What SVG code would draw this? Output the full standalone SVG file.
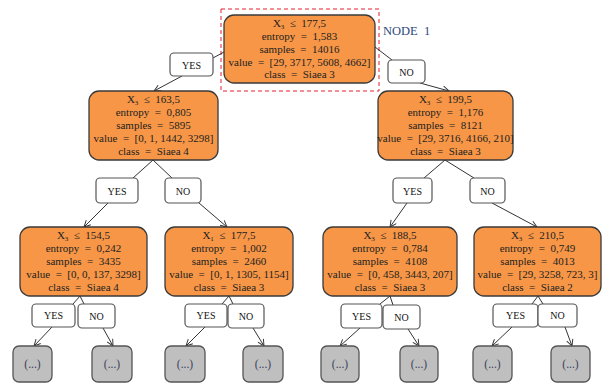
<svg xmlns="http://www.w3.org/2000/svg" width="603" height="385" viewBox="0 0 603 385">
<defs>
<marker id="arr" viewBox="0 0 10 10" refX="9" refY="5" markerWidth="8" markerHeight="8" orient="auto" markerUnits="userSpaceOnUse">
<path d="M1,1 L9,5 L1,9" fill="none" stroke="#333" stroke-width="1.2"/>
</marker>
</defs>
<style>
text{white-space:pre}
.n rect{fill:#F79646;stroke:#3a3a3a;stroke-width:1.3}
.n text{font-family:"Liberation Serif",serif;font-size:11px;fill:#222;text-anchor:middle}
.l rect{fill:#fff;stroke:#555;stroke-width:1.2}
.l text{font-family:"Liberation Serif",serif;font-size:10px;fill:#111;text-anchor:middle}
.g rect{fill:#BFBFBF;stroke:#555;stroke-width:1.3}
.g text{font-family:"Liberation Serif",serif;font-size:11.5px;fill:#3b3f5c;text-anchor:middle}
#conn line{stroke:#333;stroke-width:1}
#conn .a{marker-end:url(#arr)}
</style>
<rect x="221" y="9" width="158" height="82" fill="none" stroke="#E8202A" stroke-width="1" stroke-dasharray="4,3"/>
<text x="383" y="35" font-family="Liberation Serif,serif" font-size="12.5" fill="#2E4A7D">NODE  1</text>

<g id="conn">
<line x1="224" y1="52" x2="213" y2="58"/>
<line class="a" x1="182" y1="76" x2="154" y2="91"/>
<line x1="375" y1="47" x2="392" y2="60"/>
<line class="a" x1="420" y1="83" x2="449" y2="91"/>
<line x1="153" y1="160" x2="133" y2="178"/>
<line x1="153" y1="160" x2="172" y2="178"/>
<line class="a" x1="108" y1="203" x2="84" y2="227"/>
<line class="a" x1="199" y1="203" x2="227" y2="227"/>
<line x1="445" y1="160" x2="424" y2="178"/>
<line x1="445" y1="160" x2="474" y2="178"/>
<line class="a" x1="407" y1="203" x2="390" y2="227"/>
<line class="a" x1="492" y1="203" x2="537" y2="227"/>
<line x1="80" y1="296" x2="73" y2="304"/>
<line x1="80" y1="296" x2="84" y2="304"/>
<line class="a" x1="52" y1="327" x2="34" y2="346"/>
<line class="a" x1="103" y1="328" x2="113" y2="346"/>
<line x1="229" y1="296" x2="222" y2="304"/>
<line x1="229" y1="296" x2="233" y2="304"/>
<line class="a" x1="205" y1="327" x2="186" y2="346"/>
<line class="a" x1="253" y1="328" x2="264" y2="346"/>
<line x1="390" y1="296" x2="380" y2="304"/>
<line x1="390" y1="296" x2="393" y2="305"/>
<line class="a" x1="360" y1="328" x2="340" y2="346"/>
<line class="a" x1="408" y1="329" x2="419" y2="346"/>
<line x1="538" y1="296" x2="532" y2="304"/>
<line x1="538" y1="296" x2="543" y2="304"/>
<line class="a" x1="512" y1="327" x2="492" y2="346"/>
<line class="a" x1="565" y1="327" x2="572" y2="346"/>
</g>

<g id="node1" class="n">
<rect x="224" y="15" width="151" height="68" rx="10"/>
<text x="299.5" y="27">X<tspan font-size="7" dy="2">3</tspan><tspan dy="-2">  ≤  177,5</tspan></text>
<text x="299.5" y="40">entropy  =  1,583</text>
<text x="299.5" y="53">samples  =  14016</text>
<text x="299.5" y="65.5">value  =  [29, 3717, 5608, 4662]</text>
<text x="299.5" y="78">class  =  Siaea 3</text>
</g>

<g id="node2" class="n">
<rect x="89" y="91" width="129" height="69" rx="10"/>
<text x="153.5" y="103">X<tspan font-size="7" dy="2">3</tspan><tspan dy="-2">  ≤  163,5</tspan></text>
<text x="153.5" y="116">entropy  =  0,805</text>
<text x="153.5" y="129">samples  =  5895</text>
<text x="153.5" y="142">value  =  [0, 1, 1442, 3298]</text>
<text x="153.5" y="155">class  =  Siaea 4</text>
</g>

<g id="node3" class="n">
<rect x="378" y="91" width="135" height="69" rx="10"/>
<text x="445.5" y="103">X<tspan font-size="7" dy="2">3</tspan><tspan dy="-2">  ≤  199,5</tspan></text>
<text x="445.5" y="116">entropy  =  1,176</text>
<text x="445.5" y="129">samples  =  8121</text>
<text x="445.5" y="142">value  =  [29, 3716, 4166, 210]</text>
<text x="445.5" y="155">class  =  Siaea 3</text>
</g>

<g id="node4" class="n">
<rect x="20" y="227" width="127" height="69" rx="10"/>
<text x="83.5" y="239">X<tspan font-size="7" dy="2">3</tspan><tspan dy="-2">  ≤  154,5</tspan></text>
<text x="83.5" y="252">entropy  =  0,242</text>
<text x="83.5" y="265">samples  =  3435</text>
<text x="83.5" y="278">value  =  [0, 0, 137, 3298]</text>
<text x="83.5" y="291">class  =  Siaea 4</text>
</g>

<g id="node5" class="n">
<rect x="165" y="227" width="128" height="69" rx="10"/>
<text x="229" y="239">X<tspan font-size="7" dy="2">1</tspan><tspan dy="-2">  ≤  177,5</tspan></text>
<text x="229" y="252">entropy  =  1,002</text>
<text x="229" y="265">samples  =  2460</text>
<text x="229" y="278">value  =  [0, 1, 1305, 1154]</text>
<text x="229" y="291">class  =  Siaea 3</text>
</g>

<g id="node6" class="n">
<rect x="323" y="227" width="134" height="69" rx="10"/>
<text x="390" y="239">X<tspan font-size="7" dy="2">3</tspan><tspan dy="-2">  ≤  188,5</tspan></text>
<text x="390" y="252">entropy  =  0,784</text>
<text x="390" y="265">samples  =  4108</text>
<text x="390" y="278">value  =  [0, 458, 3443, 207]</text>
<text x="390" y="291">class  =  Siaea 3</text>
</g>

<g id="node7" class="n">
<rect x="474" y="227" width="127" height="69" rx="10"/>
<text x="537.5" y="239">X<tspan font-size="7" dy="2">3</tspan><tspan dy="-2">  ≤  210,5</tspan></text>
<text x="537.5" y="252">entropy  =  0,749</text>
<text x="537.5" y="265">samples  =  4013</text>
<text x="537.5" y="278">value  =  [29, 3258, 723, 3]</text>
<text x="537.5" y="291">class  =  Siaea 2</text>
</g>

<g id="lbl-yes-1" class="l"><rect x="170" y="53" width="43" height="23" rx="4"/><text x="191.5" y="68.5">YES</text></g>
<g id="lbl-no-1" class="l"><rect x="388" y="60" width="37" height="23" rx="4"/><text x="406.5" y="75.5">NO</text></g>
<g id="lbl-yes-2" class="l"><rect x="96" y="178" width="42" height="25" rx="4"/><text x="117" y="194.5">YES</text></g>
<g id="lbl-no-2" class="l"><rect x="165" y="178" width="36" height="25" rx="4"/><text x="183" y="194.5">NO</text></g>
<g id="lbl-yes-3" class="l"><rect x="393" y="178" width="39" height="25" rx="4"/><text x="412.5" y="194.5">YES</text></g>
<g id="lbl-no-3" class="l"><rect x="470" y="178" width="35" height="25" rx="4"/><text x="487.5" y="194.5">NO</text></g>
<g id="lbl-yes-4" class="l"><rect x="32" y="304" width="43" height="23" rx="4"/><text x="53.5" y="319">YES</text></g>
<g id="lbl-no-4" class="l"><rect x="78" y="304" width="37" height="24" rx="4"/><text x="96.5" y="320">NO</text></g>
<g id="lbl-yes-5" class="l"><rect x="185" y="304" width="42" height="23" rx="4"/><text x="206" y="319">YES</text></g>
<g id="lbl-no-5" class="l"><rect x="228" y="304" width="36" height="24" rx="4"/><text x="246" y="320">NO</text></g>
<g id="lbl-yes-6" class="l"><rect x="341" y="304" width="41" height="24" rx="4"/><text x="361.5" y="319.5">YES</text></g>
<g id="lbl-no-6" class="l"><rect x="383" y="305" width="37" height="24" rx="4"/><text x="401.5" y="321">NO</text></g>
<g id="lbl-yes-7" class="l"><rect x="493" y="304" width="45" height="23" rx="4"/><text x="515.5" y="319">YES</text></g>
<g id="lbl-no-7" class="l"><rect x="538" y="304" width="39" height="23" rx="4"/><text x="557.5" y="319">NO</text></g>

<g id="leaf1" class="g"><rect x="13" y="346" width="39" height="36" rx="6"/><text x="32.5" y="368">(...)</text></g>
<g id="leaf2" class="g"><rect x="92" y="346" width="40" height="36" rx="6"/><text x="112" y="368">(...)</text></g>
<g id="leaf3" class="g"><rect x="165" y="346" width="40" height="36" rx="6"/><text x="185" y="368">(...)</text></g>
<g id="leaf4" class="g"><rect x="243" y="346" width="40" height="36" rx="6"/><text x="263" y="368">(...)</text></g>
<g id="leaf5" class="g"><rect x="321" y="346" width="38" height="36" rx="6"/><text x="340" y="368">(...)</text></g>
<g id="leaf6" class="g"><rect x="400" y="346" width="38" height="36" rx="6"/><text x="419" y="368">(...)</text></g>
<g id="leaf7" class="g"><rect x="473" y="346" width="39" height="36" rx="6"/><text x="492.5" y="368">(...)</text></g>
<g id="leaf8" class="g"><rect x="551" y="346" width="39" height="36" rx="6"/><text x="570.5" y="368">(...)</text></g>
</svg>
